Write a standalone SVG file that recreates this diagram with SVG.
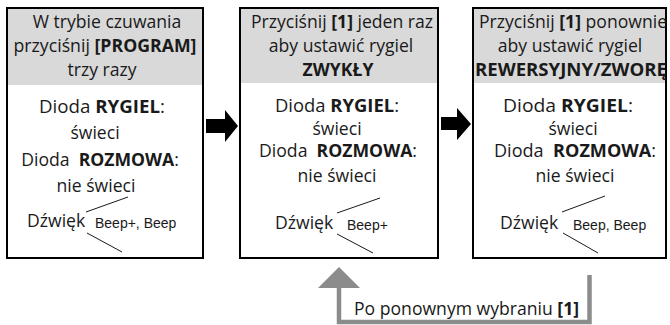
<svg xmlns="http://www.w3.org/2000/svg" width="670" height="325" viewBox="0 0 670 325">
<style>
.box{fill:#fff;stroke:#000;stroke-width:2}
.hdr{fill:#d9d9d9}
.t{font-family:"Open Sans","Noto Sans",sans-serif;font-size:17.6px;fill:#1a1a1a;text-anchor:middle}
.st{text-anchor:start}
.b{font-weight:bold}
.s{font-family:"Liberation Sans",Arial,sans-serif;font-size:14px;fill:#1a1a1a}
.ln{stroke:#1a1a1a;stroke-width:1;fill:none}
.g{stroke:#8c8c8c;stroke-width:4.5;fill:none}
</style>
<rect width="670" height="325" fill="#fff"/>
<g id="node1">
<rect class="box" x="7" y="8" width="196" height="250"/>
<rect class="hdr" x="8" y="9" width="194" height="76"/>
<text class="t" x="107" y="28">W trybie czuwania</text>
<text class="t" x="105" y="52" textLength="183" lengthAdjust="spacingAndGlyphs">przyciśnij <tspan class="b">[PROGRAM]</tspan></text>
<text class="t" x="102" y="76">trzy razy</text>
<text class="t" x="102" y="113" textLength="126" lengthAdjust="spacingAndGlyphs">Dioda <tspan class="b">RYGIEL</tspan>:</text>
<text class="t" x="95" y="139">świeci</text>
<text class="t" x="100" y="166" xml:space="preserve">Dioda  <tspan class="b">ROZMOWA</tspan>:</text>
<text class="t" x="96" y="192">nie świeci</text>
<text class="t st" x="27" y="227">Dźwięk</text>
<text class="s" x="95" y="228">Beep+, Beep</text>
<line class="ln" x1="86" y1="212" x2="128" y2="197"/>
<line class="ln" x1="87" y1="233" x2="122" y2="252"/>
</g>
<g id="node2">
<rect class="box" x="240" y="8" width="198" height="250"/>
<rect class="hdr" x="241" y="9" width="196" height="74"/>
<text class="t" x="342" y="28">Przyciśnij <tspan class="b">[1]</tspan> jeden raz</text>
<text class="t" x="341" y="52">aby ustawić rygiel</text>
<text class="t b" x="338" y="76">ZWYKŁY</text>
<text class="t" x="337" y="112" textLength="124" lengthAdjust="spacingAndGlyphs">Dioda <tspan class="b">RYGIEL</tspan>:</text>
<text class="t" x="337" y="135">świeci</text>
<text class="t" x="338" y="157" xml:space="preserve" textLength="158" lengthAdjust="spacingAndGlyphs">Dioda  <tspan class="b">ROZMOWA</tspan>:</text>
<text class="t" x="337" y="182">nie świeci</text>
<text class="t st" x="275" y="229">Dźwięk</text>
<text class="s" x="347" y="230">Beep+</text>
<line class="ln" x1="337" y1="213" x2="380" y2="198"/>
<line class="ln" x1="337" y1="234" x2="373" y2="253"/>
</g>
<g id="node3">
<rect class="box" x="473" y="8" width="193" height="250"/>
<rect class="hdr" x="474" y="9" width="191" height="74"/>
<text class="t" x="573" y="28">Przyciśnij <tspan class="b">[1]</tspan> ponownie</text>
<text class="t" x="570" y="52">aby ustawić rygiel</text>
<text class="t b" x="571" y="76" textLength="192" lengthAdjust="spacingAndGlyphs">REWERSYJNY/ZWORĘ</text>
<text class="t" x="568" y="112" textLength="130" lengthAdjust="spacingAndGlyphs">Dioda <tspan class="b">RYGIEL</tspan>:</text>
<text class="t" x="573" y="135">świeci</text>
<text class="t" x="575" y="157" xml:space="preserve" textLength="162" lengthAdjust="spacingAndGlyphs">Dioda  <tspan class="b">ROZMOWA</tspan>:</text>
<text class="t" x="575" y="182">nie świeci</text>
<text class="t st" x="500" y="229">Dźwięk</text>
<text class="s" x="573" y="230">Beep, Beep</text>
<line class="ln" x1="562" y1="212" x2="605" y2="196"/>
<line class="ln" x1="563" y1="233" x2="598" y2="253"/>
</g>
<g id="connectors">
<polygon points="206,119 225,119 225,110 238,126 225,142 225,133 206,133" fill="#000"/>
<polygon points="441,117 457,117 457,108 471,124 457,140 457,130 441,130" fill="#000"/>
<polyline class="g" points="589.5,275 589.5,322 339,322 339,286"/>
<polygon points="318,288 339,267 360,288" fill="#8c8c8c"/>
<text class="t st" x="354" y="315">Po ponownym wybraniu <tspan class="b">[1]</tspan></text>
</g>
</svg>
